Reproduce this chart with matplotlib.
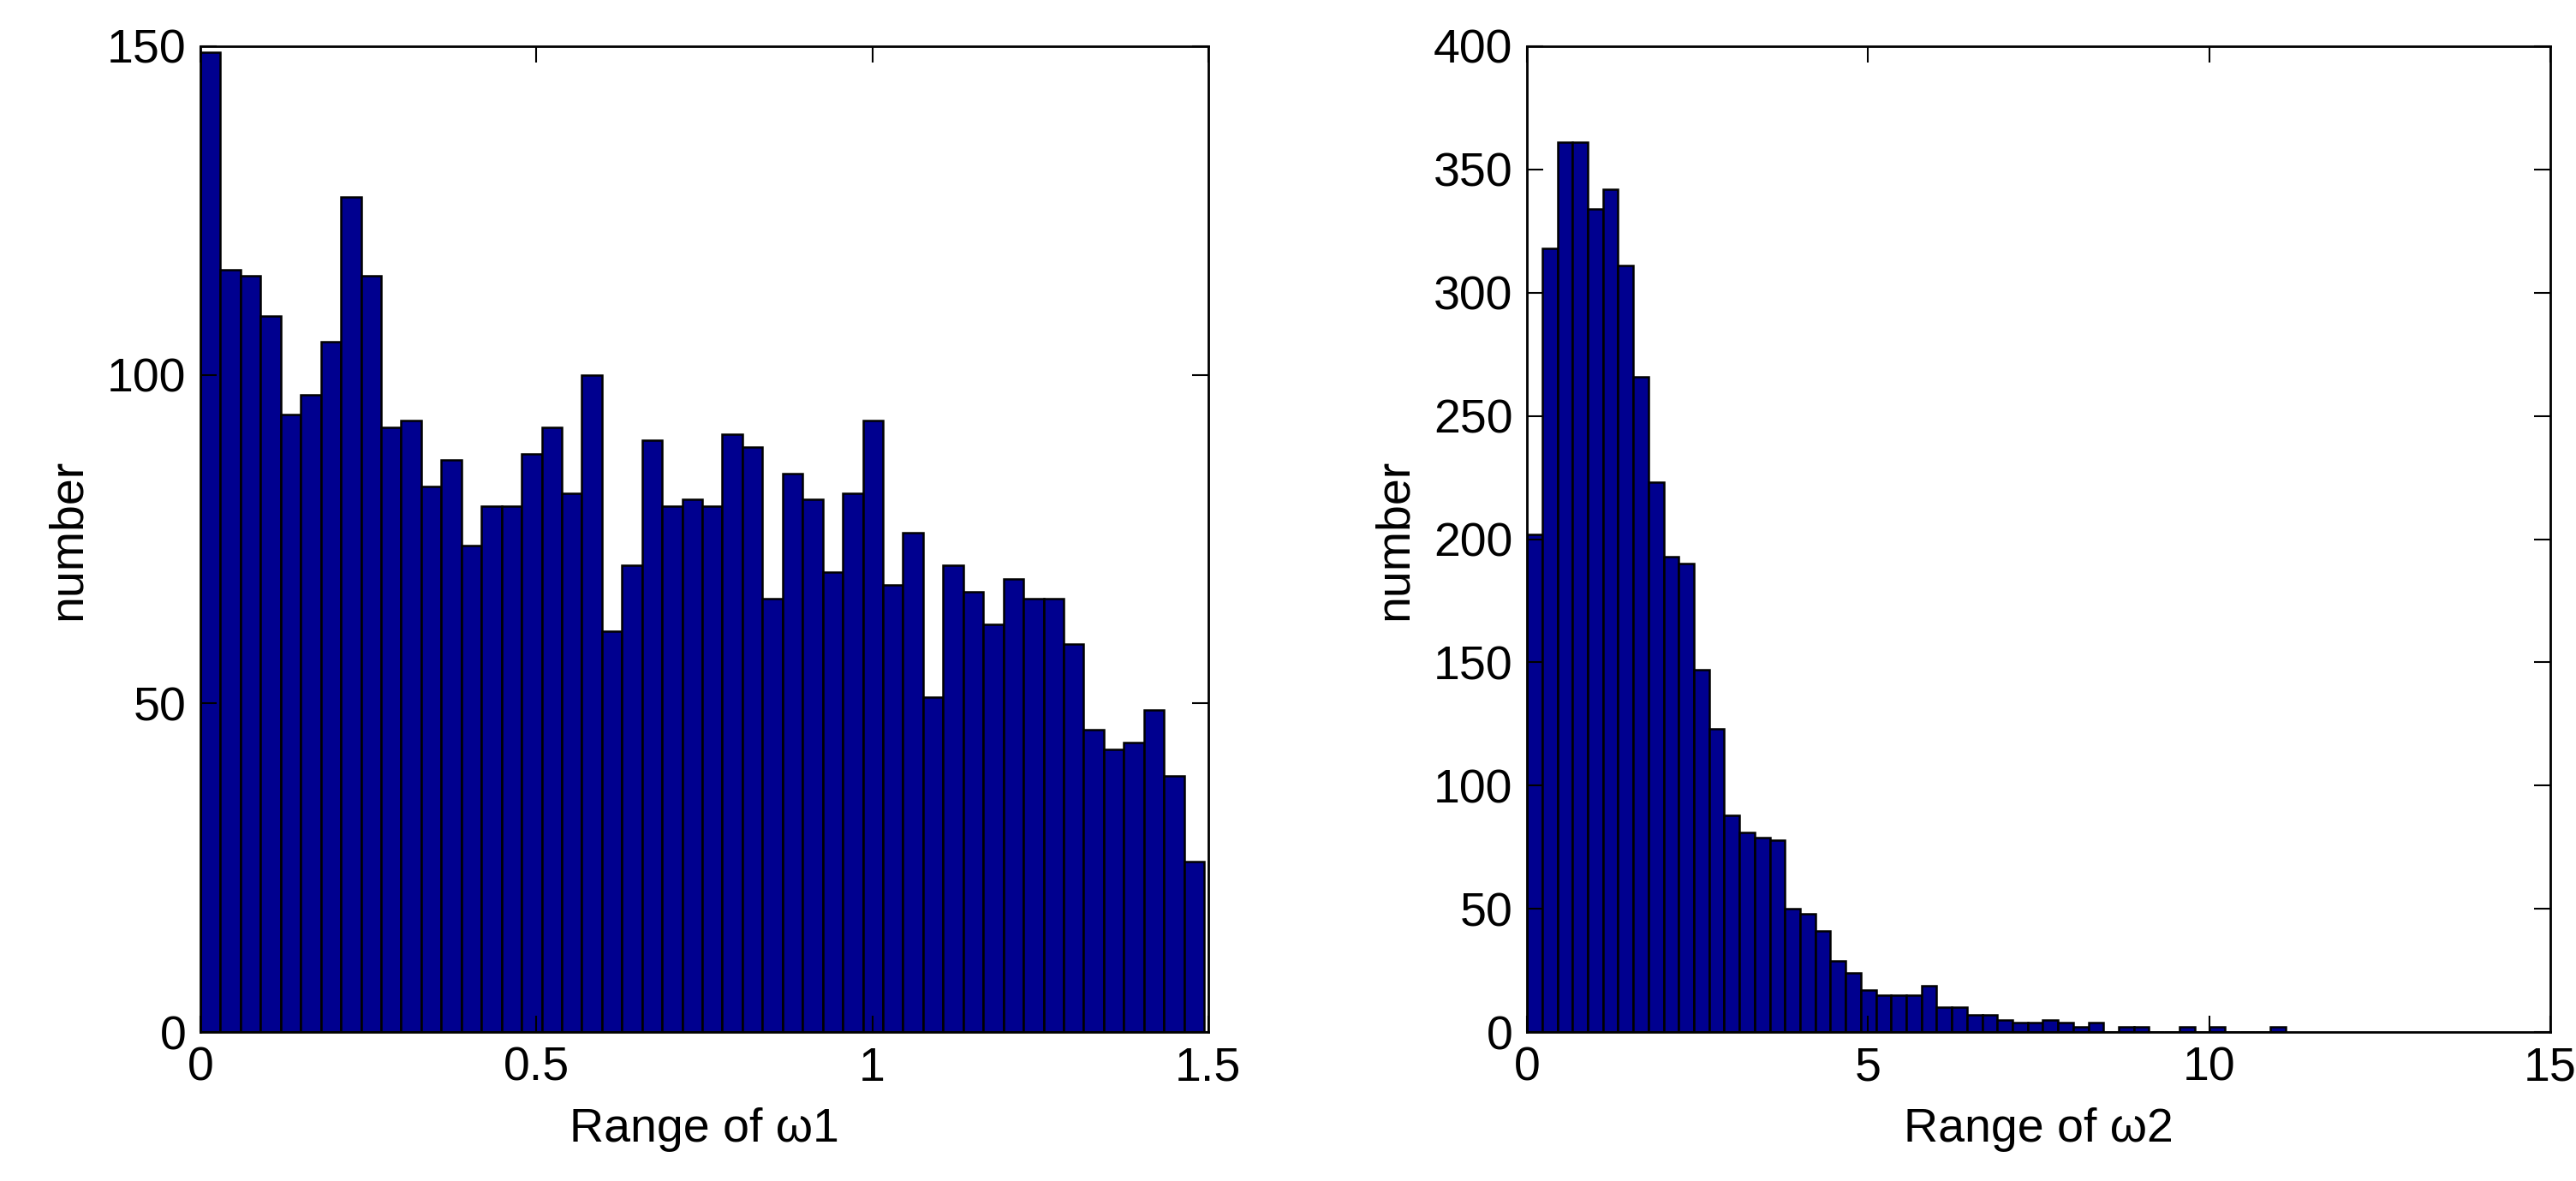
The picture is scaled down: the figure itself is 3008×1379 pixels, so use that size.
import numpy as np
import matplotlib
matplotlib.use("Agg")
import matplotlib.pyplot as plt

plt.rcParams['font.family'] = ['Liberation Sans', 'DejaVu Sans']

# Data: histogram counts (50 bins each)
w1_range = (0.0, 1.494)
w1_counts = [149, 116, 115, 109, 94, 97, 105, 127, 115, 92,
             93, 83, 87, 74, 80, 80, 88, 92, 82, 100,
             61, 71, 90, 80, 81, 80, 91, 89, 66, 85,
             81, 70, 82, 93, 68, 76, 51, 71, 67, 62,
             69, 66, 66, 59, 46, 43, 44, 49, 39, 26]

w2_range = (0.0, 11.12)
w2_counts = [202, 318, 361, 361, 334, 342, 311, 266, 223, 193,
             190, 147, 123, 88, 81, 79, 78, 50, 48, 41,
             29, 24, 17, 15, 15, 15, 19, 10, 10, 7,
             7, 5, 4, 4, 5, 4, 2, 4, 0, 2,
             2, 0, 0, 2, 0, 2, 0, 0, 0, 2]

fig = plt.figure(figsize=(30.08, 13.79), dpi=100)
ax1 = fig.add_axes([0.0778, 0.126, 0.3912, 0.835])
ax2 = fig.add_axes([0.5928, 0.126, 0.3972, 0.835])

FS = 40
color = '#00008F'

def draw(ax, rng, counts, xlim, ylim, xticks, yticks, xlabel):
    edges = np.linspace(rng[0], rng[1], len(counts) + 1)
    ax.bar(edges[:-1], counts, width=np.diff(edges), align='edge',
           color=color, edgecolor='black', linewidth=1.8)
    ax.set_xlim(*xlim)
    ax.set_ylim(*ylim)
    ax.set_xticks(xticks)
    ax.set_xticklabels([('%g' % t) for t in xticks])
    ax.set_yticks(yticks)
    ax.tick_params(direction='in', length=14, width=1.5, labelsize=FS,
                   top=True, right=True, pad=12)
    for s in ax.spines.values():
        s.set_linewidth(2)
    ax.set_xlabel(xlabel, fontsize=FS, labelpad=14)
    ax.set_ylabel('number', fontsize=FS, labelpad=14)

draw(ax1, w1_range, w1_counts, (0, 1.5), (0, 150), [0, 0.5, 1, 1.5],
     [0, 50, 100, 150], 'Range of ω1')
draw(ax2, w2_range, w2_counts, (0, 15), (0, 400), [0, 5, 10, 15],
     list(range(0, 401, 50)), 'Range of ω2')

fig.savefig('out.png', dpi=100)
